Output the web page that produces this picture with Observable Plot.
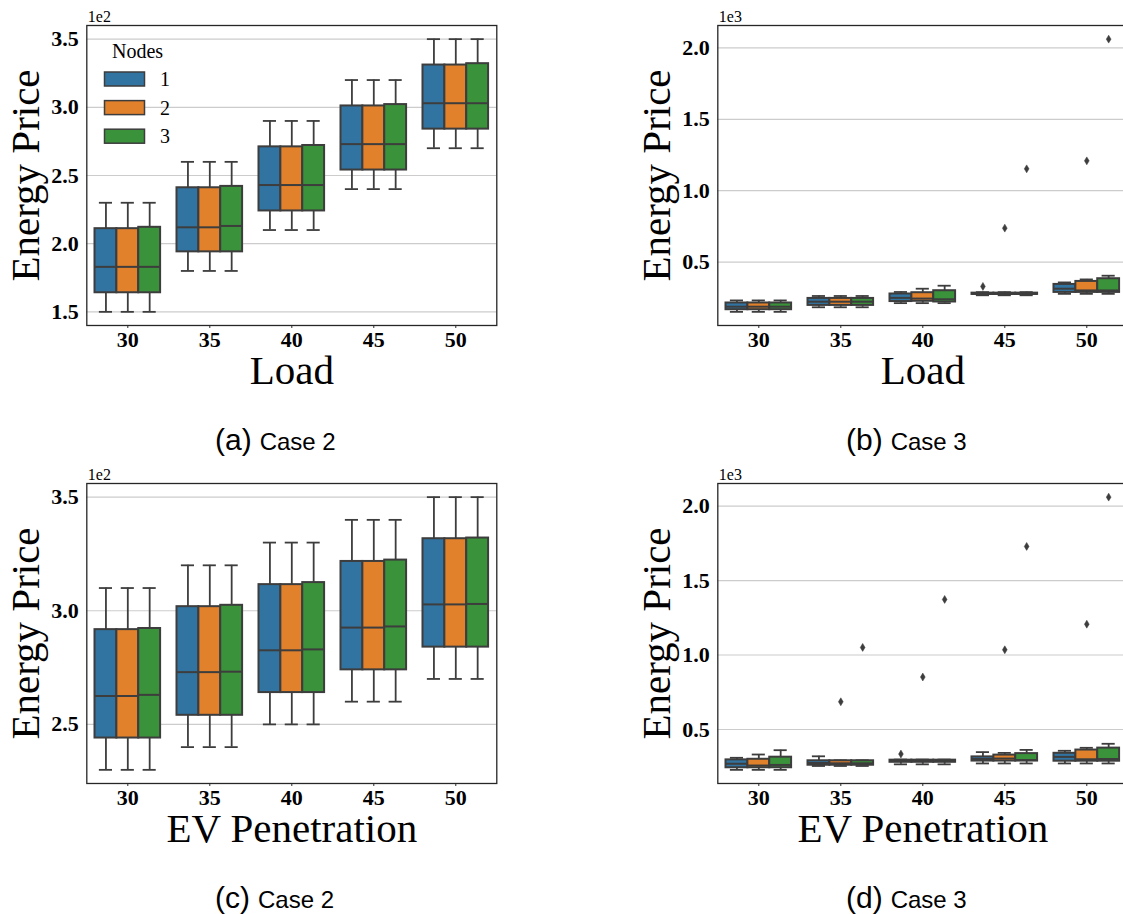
<!DOCTYPE html>
<html>
<head>
<meta charset="utf-8">
<script src="https://cdn.jsdelivr.net/npm/d3@7"></script>
<script src="https://cdn.jsdelivr.net/npm/@observablehq/plot@0.6"></script>
<style>
  html, body { margin: 0; padding: 0; background: #fff; overflow: hidden; }
  #wrap { position: relative; width: 1123px; height: 914px; overflow: hidden; background: #fff; }
  .panel { position: absolute; }
</style>
</head>
<body>
<div id="wrap"></div>
<script>
// ---------- data ----------
const loads = [30, 35, 40, 45, 50];
const evPen = [30, 35, 40, 45, 50];
const nodes = [1, 2, 3];
const nodeColors = ["#3274a1", "#e1812c", "#3a923a"];

// (a) Case 2 vs Load  (values in real units, axis shown x1e2)
const a_lo  = [[150,150,150],[180,180,180],[210,210,210],[240,240,240],[270,270,270]];
const a_q1  = [[164,164,164],[194,194,194],[224,224,224],[254,254,254],[284,284,284]];
const a_med = [[183,183,183],[212,212,213],[243,243,243],[273,273,273],[303,303,303]];
const a_q3  = [[211,211,212],[241,241,242],[271,271,272],[301,301,302],[331,331,332]];
const a_hi  = [[230,230,230],[260,260,260],[290,290,290],[320,320,320],[350,350,350]];
const a_out = [];

// (b) Case 3 vs Load  (axis shown x1e3)
const b_lo  = [[152,152,152],[184,184,184],[213,213,213],[268,268,268],[278,278,278]];
const b_q1  = [[167,167,167],[197,197,197],[224,226,221],[274,274,274],[288,288,288]];
const b_med = [[188,188,188],[223,223,223],[250,245,240],[278,278,278],[314,302,302]];
const b_q3  = [[214,214,214],[246,246,246],[277,286,300],[283,283,283],[344,365,384]];
const b_hi  = [[232,232,232],[263,263,263],[291,314,335],[290,290,290],[358,379,405]];
const b_out = [[45,1,330],[45,2,738],[45,3,1153],[50,2,1209],[50,3,2061]];

// (c) Case 2 vs EV Penetration
const c_lo  = [[230,230,230],[240,240,240],[250,250,250],[260,260,260],[270,270,270]];
const c_q1  = [[244,244,244],[254,254,254],[264,264,264],[274,274,274],[284,284,284]];
const c_med = [[262.5,262.5,263],[273,273,273.2],[282.6,282.6,283],[292.6,292.6,293.1],[302.8,302.8,303]];
const c_q3  = [[291.7,291.7,292.2],[301.8,301.8,302.4],[311.5,311.5,312.4],[321.7,321.7,322.3],[331.7,331.7,332]];
const c_hi  = [[310,310,310],[320,320,320],[330,330,330],[340,340,340],[350,350,350]];
const c_out = [];

// (d) Case 3 vs EV Penetration
const d_lo  = [[229,229,229],[255,255,255],[266,266,266],[272,272,272],[272,272,272]];
const d_q1  = [[243,243,243],[260,260,260],[280,280,280],[288,288,288],[287,287,287]];
const d_med = [[270,258,262],[275,273,273],[287,287,287],[302,305,295],[316,300,302]];
const d_q3  = [[296,300,314],[290,290,290],[294,294,294],[316,328,338],[340,362,375]];
const d_hi  = [[310,332,361],[320,293,293],[298,298,298],[348,343,363],[357,377,404]];
const d_out = [[35,2,686],[35,3,1051],[40,1,335],[40,2,852],[40,3,1373],[45,2,1035],[45,3,1729],[50,2,1207],[50,3,2060]];

const ticksE2a = [150, 200, 250, 300, 350];
const ticksE2c = [250, 300, 350];
const ticksE3  = [500, 1000, 1500, 2000];

// ---------- drawing ----------
const dark = "#3d3d3d";
const serif = "Liberation Serif, Times New Roman, serif";
const thinDiamond = {
  draw(ctx, size) {
    const h = Math.sqrt(size) * 0.8, w = h * 0.6;
    ctx.moveTo(0, -h); ctx.lineTo(w, 0); ctx.lineTo(0, h); ctx.lineTo(-w, 0); ctx.closePath();
  }
};

function makePanel(cfg) {
  const {cats, lo, q1, med, q3, hi, out, ticks, div, expLabel, xLabel} = cfg;
  const step = cats[1] - cats[0];
  const bw = step * 0.8 / nodes.length;
  const cap = bw * 0.6;
  const rows = [];
  cats.forEach((c, i) => nodes.forEach((n, j) => rows.push({
    cat: c, node: String(n), pos: c + (j - (nodes.length - 1) / 2) * bw,
    lo: lo[i][j], q1: q1[i][j], med: med[i][j], q3: q3[i][j], hi: hi[i][j]
  })));
  const outRows = out.map(([c, n, v]) => ({pos: c + (nodes.indexOf(n) - (nodes.length - 1) / 2) * bw, v}));
  const vals = rows.flatMap(r => [r.lo, r.hi]).concat(outRows.map(o => o.v));
  const mn = d3.min(vals), mx = d3.max(vals), pad = (mx - mn) * 0.05;

  return Plot.plot({
    width: 86.3 + 410 + 14,
    height: 395,
    marginLeft: 86.3,
    marginRight: 14,
    marginTop: 25,
    marginBottom: 70,
    style: {fontFamily: serif, fontSize: "22px", fontWeight: "bold", color: "#000", background: "transparent", overflow: "visible"},
    x: {domain: [cats[0] - step / 2, cats[cats.length - 1] + step / 2]},
    y: {domain: [mn - pad, mx + pad]},
    color: {domain: nodes.map(String), range: nodeColors},
    marks: [
      Plot.gridY(ticks, {stroke: "#cccccc", strokeOpacity: 1, strokeWidth: 1.2}),
      Plot.ruleX(rows, {x: "pos", y1: "q3", y2: "hi", stroke: dark, strokeWidth: 1.8}),
      Plot.ruleX(rows, {x: "pos", y1: "lo", y2: "q1", stroke: dark, strokeWidth: 1.8}),
      Plot.ruleY(rows, {y: "hi", x1: d => d.pos - cap / 2, x2: d => d.pos + cap / 2, stroke: dark, strokeWidth: 1.8}),
      Plot.ruleY(rows, {y: "lo", x1: d => d.pos - cap / 2, x2: d => d.pos + cap / 2, stroke: dark, strokeWidth: 1.8}),
      Plot.rect(rows, {x1: d => d.pos - bw / 2, x2: d => d.pos + bw / 2, y1: "q1", y2: "q3", fill: "node", stroke: dark, strokeWidth: 2}),
      Plot.ruleY(rows, {y: "med", x1: d => d.pos - bw / 2, x2: d => d.pos + bw / 2, stroke: dark, strokeWidth: 2}),
      Plot.dot(outRows, {x: "pos", y: "v", symbol: thinDiamond, r: 2.8, fill: dark, stroke: dark, strokeWidth: 0.5}),
      Plot.frame({stroke: "#262626", strokeWidth: 1.3}),
      Plot.axisY(ticks, {tickSize: 0, tickPadding: 8, tickFormat: d => (d / div).toFixed(1),
        fontSize: 22, fontWeight: "bold", fontFamily: serif, fill: "#000", label: null}),
      Plot.axisX(cats, {tickSize: 3, tickPadding: 3, tickFormat: d => String(d), stroke: "#262626",
        fontSize: 22, fontWeight: "bold", fontFamily: serif, fill: "#000", label: null}),
      Plot.text([xLabel], {frameAnchor: "bottom", lineAnchor: "middle", textAnchor: "middle", dy: 45,
        fontSize: 41, fontWeight: "normal", fontFamily: serif, fill: "#000"}),
      Plot.text(["Energy Price"], {frameAnchor: "left", lineAnchor: "middle", textAnchor: "middle", dx: -61, rotate: -90,
        fontSize: 41, fontWeight: "normal", fontFamily: serif, fill: "#000"}),
      Plot.text([expLabel], {frameAnchor: "top-left", textAnchor: "start", lineAnchor: "bottom", dy: -3, dx: 1,
        fontSize: 16, fontWeight: "normal", fontFamily: serif, fill: "#000"})
    ]
  });
}

const wrap = document.getElementById("wrap");
const panels = [
  {left: 0,   top: 0,   cfg: {cats: loads, lo: a_lo, q1: a_q1, med: a_med, q3: a_q3, hi: a_hi, out: a_out, ticks: ticksE2a, div: 100,  expLabel: "1e2", xLabel: "Load"}, tag: "(a)", sub: "Case 2"},
  {left: 631, top: 0,   cfg: {cats: loads, lo: b_lo, q1: b_q1, med: b_med, q3: b_q3, hi: b_hi, out: b_out, ticks: ticksE3,  div: 1000, expLabel: "1e3", xLabel: "Load"}, tag: "(b)", sub: "Case 3"},
  {left: 0,   top: 458, cfg: {cats: evPen, lo: c_lo, q1: c_q1, med: c_med, q3: c_q3, hi: c_hi, out: c_out, ticks: ticksE2c, div: 100,  expLabel: "1e2", xLabel: "EV Penetration"}, tag: "(c)", sub: "Case 2"},
  {left: 631, top: 458, cfg: {cats: evPen, lo: d_lo, q1: d_q1, med: d_med, q3: d_q3, hi: d_hi, out: d_out, ticks: ticksE3,  div: 1000, expLabel: "1e3", xLabel: "EV Penetration"}, tag: "(d)", sub: "Case 3"}
];

panels.forEach(p => {
  const el = makePanel(p.cfg);
  el.classList.add("panel");
  el.style.left = p.left + "px";
  el.style.top = p.top + "px";
  wrap.appendChild(el);
});

// overlay: legend and captions
const ov = d3.select(wrap).append("svg")
  .attr("width", 1123).attr("height", 914)
  .style("position", "absolute").style("left", 0).style("top", 0).style("pointer-events", "none");

const leg = ov.append("g");
leg.append("text").attr("x", 112).attr("y", 58).attr("font-family", serif).attr("font-size", 20).text("Nodes");
nodes.forEach((n, i) => {
  leg.append("rect").attr("x", 104.5).attr("y", 72 + i * 28.6).attr("width", 40).attr("height", 14)
    .attr("fill", nodeColors[i]).attr("stroke", dark).attr("stroke-width", 1.5);
  leg.append("text").attr("x", 160).attr("y", 86 + i * 28.6).attr("font-family", serif).attr("font-size", 20).text(String(n));
});

panels.forEach(p => {
  const t = ov.append("text").attr("x", p.left + 215).attr("y", p.top + 450)
    .attr("font-family", "Liberation Sans, Arial, sans-serif").attr("fill", "#000");
  t.append("tspan").attr("font-size", 30).text(p.tag);
  t.append("tspan").attr("font-size", 24).attr("dx", 8).text(p.sub);
});
</script>
</body>
</html>
